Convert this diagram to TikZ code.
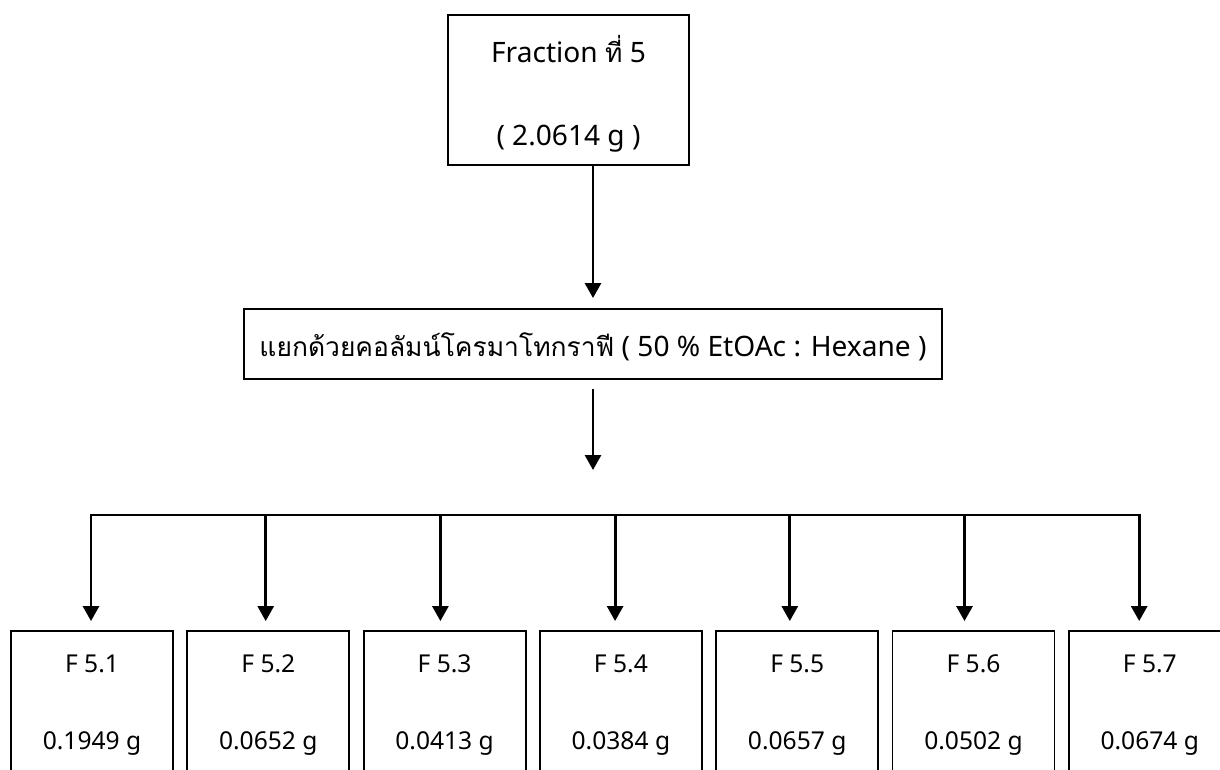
\documentclass[tikz,border=0pt]{standalone}
\usepackage{fontspec}
\setmainfont{Noto Sans}
\newfontfamily\thaifont[Script=Thai,Scale=0.94]{Loma}
\usepackage{tikz}
\usetikzlibrary{arrows.meta,calc}

\begin{document}
\begin{tikzpicture}[x=0.02cm,y=-0.02cm,>={Triangle[length=0.3cm,width=0.32cm]},
  box/.style={draw,line width=1.1pt,inner sep=0pt},
  lbl/.style={anchor=base,font=\fontsize{16}{19}\selectfont},
  lblsmall/.style={anchor=base,font=\fontsize{14}{17}\selectfont},
  flow/.style={->,line width=1.6pt}]
\useasboundingbox (0,0) rectangle (1220,769);
\clip (0,0) rectangle (1220,769);
\node[box,minimum width=4.82cm,minimum height=3cm] (frac) at (568.5,90) {};
\node[lbl] (fracname) at ($(frac.north)+(0,48)$) {Fraction {\thaifont ที่} 5};
\node[lbl] (fracmass) at ($(frac.north)+(0,131)$) {( 2.0614 g )};
\node[box,minimum width=13.96cm,minimum height=1.4cm] (column) at (593,344) {};
\node[lbl] (columntext) at ($(column.north)+(0,48)$) {{\thaifont แยกด้วยคอลัมน์โครมาโทกราฟี} ( 50 \% EtOAc : Hexane )};
\coordinate (split) at (593,470);
\draw[flow,shorten >=0.2cm] (frac.south -| split) -- (column.north -| split);
\draw[flow,shorten <=0.18cm] (column.south -| split) -- (split);
\foreach \m [count=\i] in {0.1949,0.0652,0.0413,0.0384,0.0657,0.0502,0.0674} {
  \node[box,minimum width=3.24cm,minimum height=3.2cm] (f\i) at ({92+176.3*(\i-1)},711) {};
  \node[lblsmall] (fname\i) at ($(f\i.north)+(0,42)$) {F 5.\i};
  \node[lblsmall] (fmass\i) at ($(f\i.north)+(0,119)$) {\m\ g};
  \coordinate (b\i) at ({91+174.7*(\i-1)},515);
  \draw[flow,shorten >=0.18cm] (b\i) -- (b\i |- f\i.north);
}
\draw[line width=1.6pt,line cap=rect] (b1) -- (b7);
\end{tikzpicture}
\end{document}
